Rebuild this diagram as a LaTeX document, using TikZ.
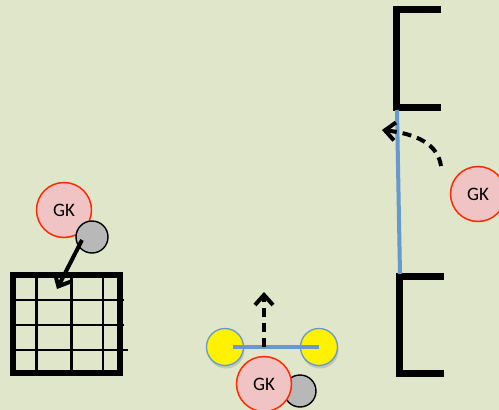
\documentclass[tikz,border=0pt]{standalone}
\usepackage{fontspec}
\setmainfont{Carlito}
\usetikzlibrary{arrows.meta,shadows}
\definecolor{pitch}{HTML}{DFE6CA}
\definecolor{gkfill}{HTML}{F0C4C4}
\definecolor{gkline}{HTML}{FF2A00}
\definecolor{postblue}{HTML}{6699CC}
\tikzset{
  keeper/.style={circle, draw=gkline, line width=1.5pt, fill=gkfill,
    minimum size=55pt, inner sep=0pt, font=\fontsize{19}{19}\selectfont},
  ball/.style={circle, draw=black, line width=1.4pt, fill=black!28,
    minimum size=32pt, inner sep=0pt},
  cone/.style={circle, draw=postblue, line width=1.3pt, fill=yellow,
    minimum size=37pt, inner sep=0pt,
    drop shadow={shadow xshift=1pt, shadow yshift=-3pt, opacity=0.3}},
  bar/.style={line width=7pt, line cap=rect},
  net/.style={line width=2.2pt},
  move/.style={line width=4pt, -{Straight Barb[length=10pt,width=18pt,line width=4pt]}},
  post/.style={line width=4pt, draw=postblue}
}
\begin{document}
\begin{tikzpicture}[x=1pt,y=-1pt]
\fill[pitch] (0,0) rectangle (499,410);
\useasboundingbox (0,0) rectangle (499,410);

% small goal with net, left
\draw[net] (36.5,275) -- (36.5,373) (71.5,275) -- (71.5,373) (103,275) -- (103,373);
\draw[net] (13,300) -- (124,300) (13,325) -- (124,325) (13,350) -- (128,350);
\draw[line width=5.5pt] (13,275) rectangle (120,373);

% keeper and ball, left
\node[keeper] (gkA) at (64,210) {GK};
\node[ball] (ballA) at (92,237) {};
\coordinate (shotA) at (57,289);
\draw[move] (ballA.center) ++(-10,3) coordinate (shotStart) (shotStart) -- (shotA);

% cones with line, bottom
\node[cone] (coneL) at (225,347) {};
\node[cone] (coneR) at (319,347) {};
\draw[post] (coneL.center) ++(8,0) coordinate (lineL) (lineL) -- (coneR.center);
\node[ball] (ballB) at (300,391) {};
\node[keeper] (gkB) at (264,384) {GK};
\coordinate (runB) at (264,292);
\draw[move, dash pattern=on 9pt off 6pt] (264,347) -- (runB);

% big goal, right
\draw[bar] (396,9) -- (437,9) (396,9) -- (396,107) (396,107) -- (437,107);
\draw[bar] (399,276) -- (440,276) (399,276) -- (399,373) (399,373) -- (440,373);
\coordinate (postTop) at (397,110);
\coordinate (postBot) at (400,274);
\draw[post] (postTop) -- (postBot);

% keeper stepping across, right
\node[keeper] (gkC) at (478,194) {GK};
\coordinate (stepC) at (382,130);
\draw[move, dash pattern=on 9pt off 6pt] (441,166) .. controls (438,145) and (418,134) .. (stepC);
\end{tikzpicture}
\end{document}
